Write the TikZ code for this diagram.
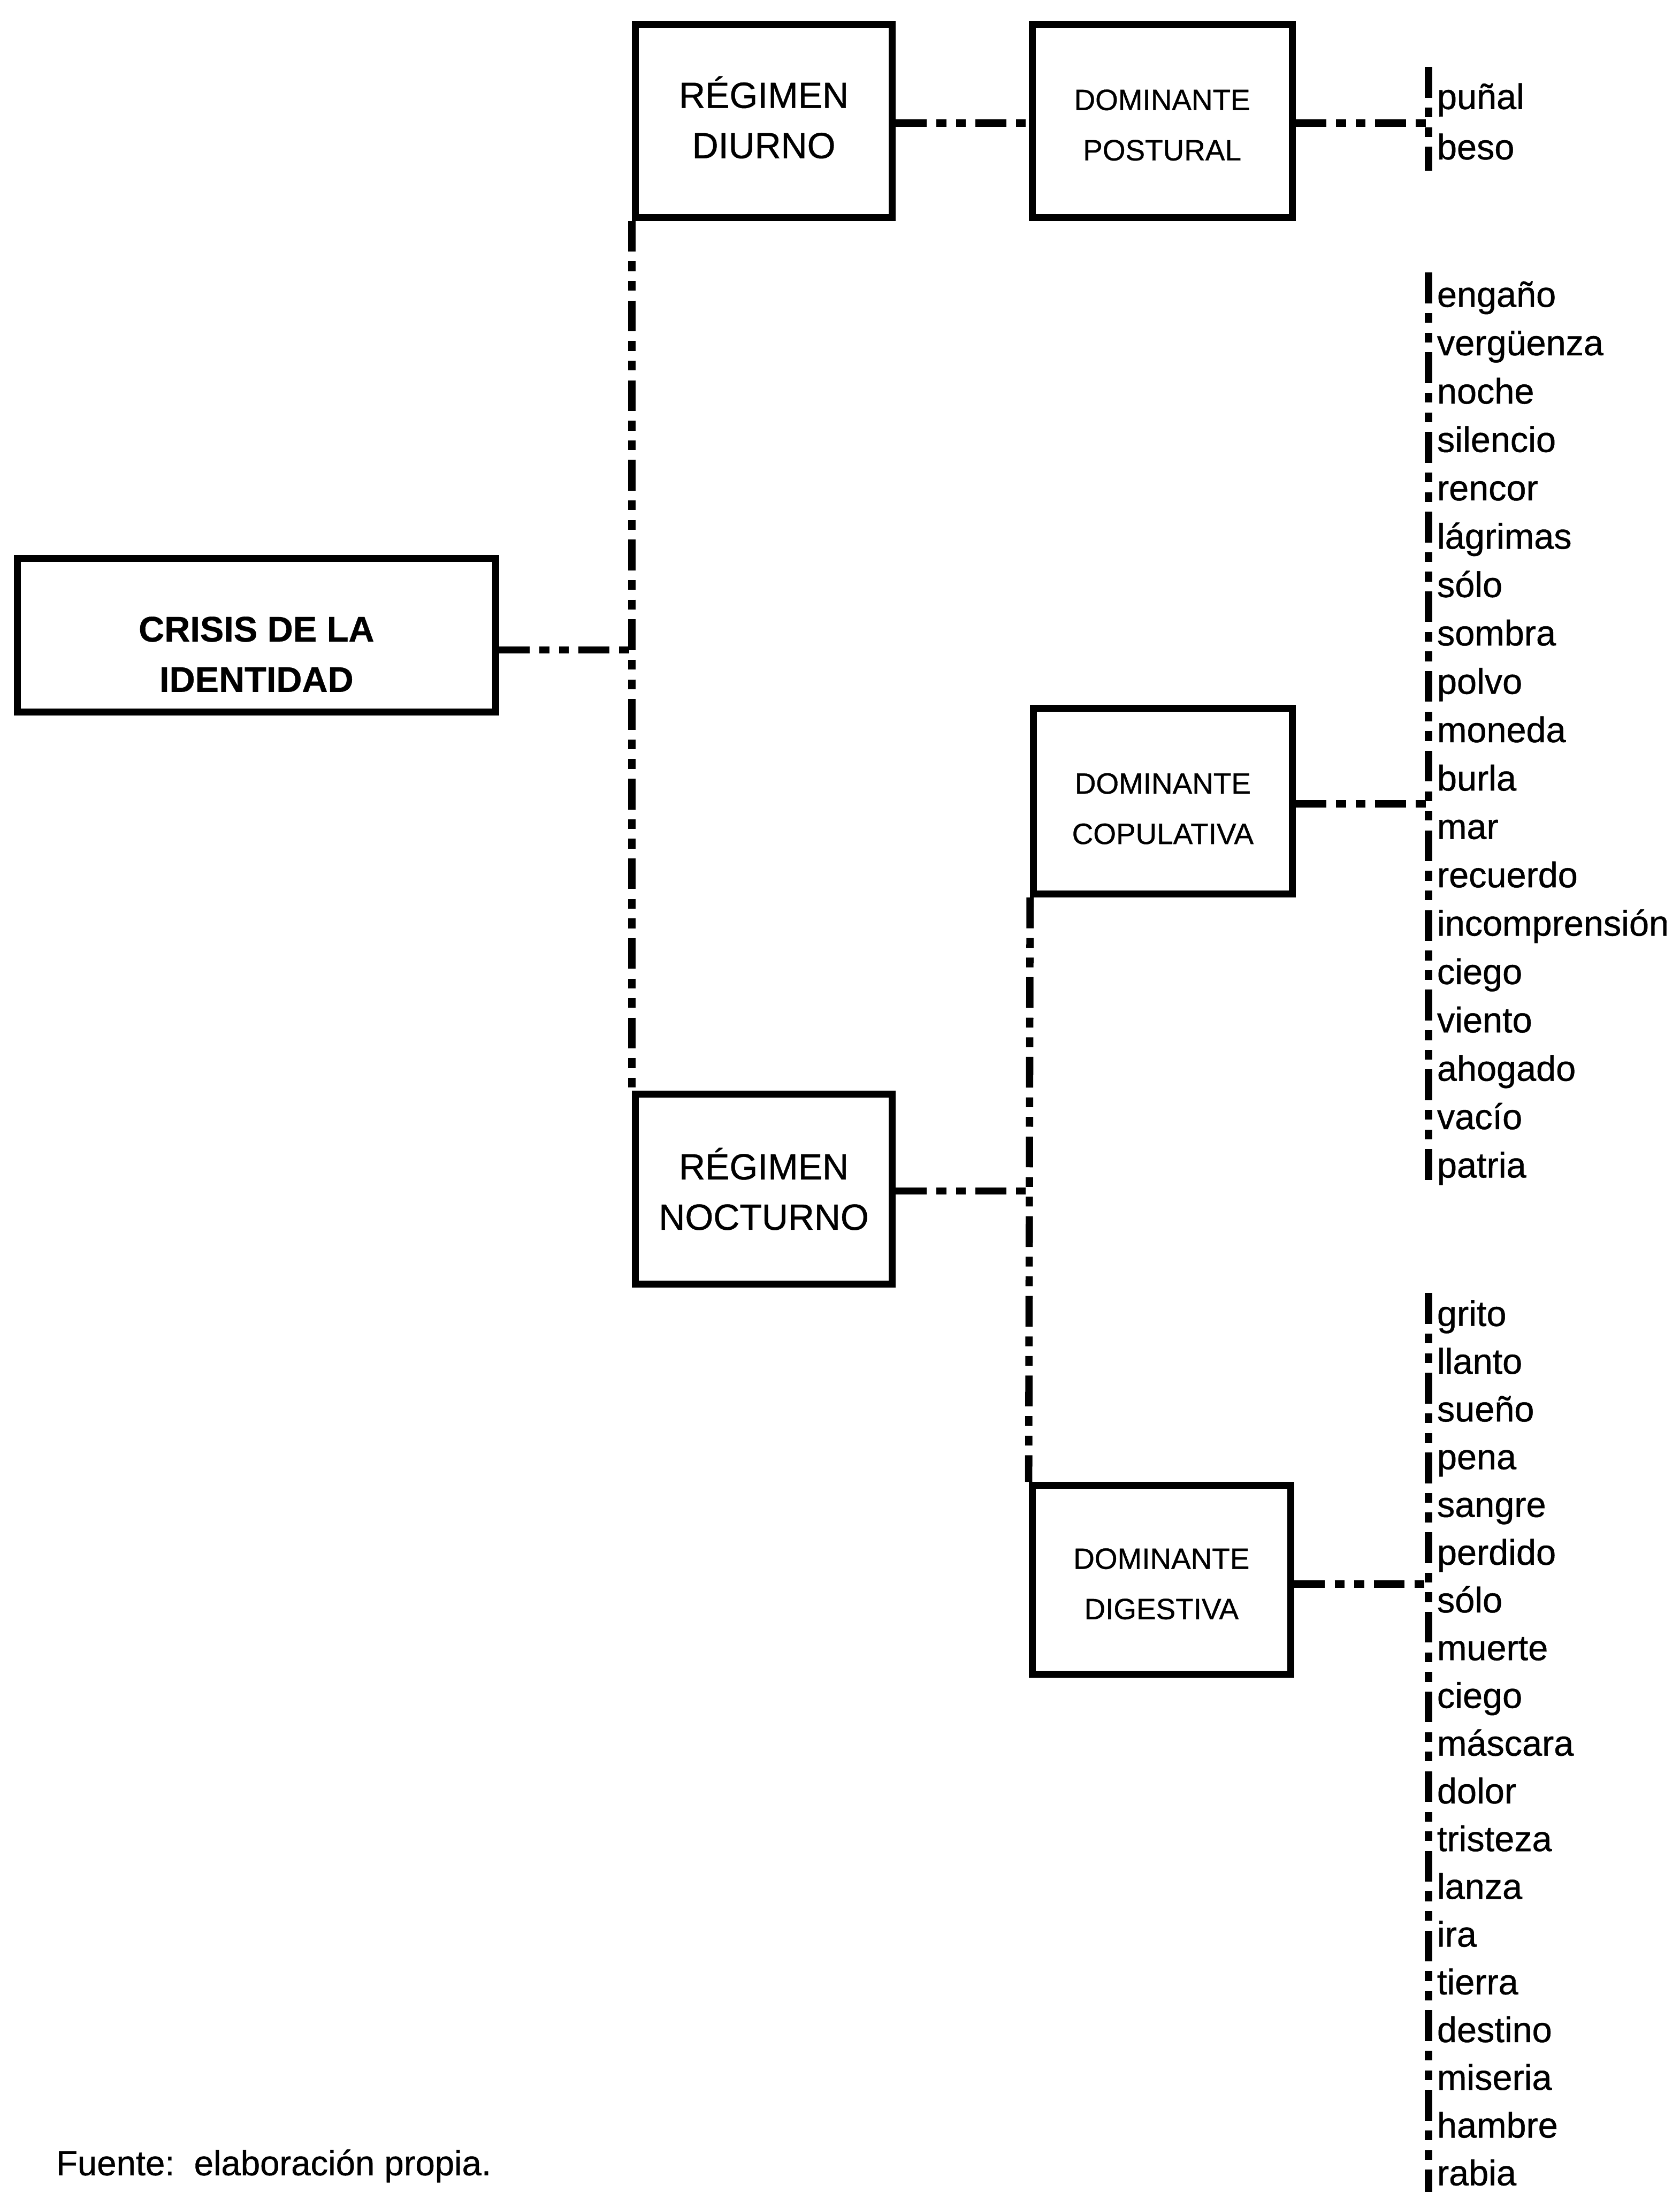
\documentclass[tikz,border=0pt]{standalone}
\usepackage{fontspec}
\setmainfont{Liberation Sans}
\newfontfamily\scanfont{Liberation Sans}[FakeBold=0.7]
\newfontfamily\scanbold{Liberation Sans Bold}[FakeBold=0.5]
\begin{document}
\begin{tikzpicture}[x=1pt,y=-1pt,
  box/.style={draw,line width=5pt,inner sep=0pt,rectangle},
  bigtxt/.style={align=center,inner sep=0pt,font=\scanfont\fontsize{26}{36}\selectfont},
  smalltxt/.style={align=center,inner sep=0pt,font=\scanfont\fontsize{21}{36}\selectfont},
  dd/.style={line width=5.2pt,dash pattern=on 22pt off 7pt on 7pt off 7pt on 7pt off 7pt},
  word/.style={anchor=base west,inner sep=0pt,font=\scanfont\fontsize{25.5}{30}\selectfont}]
\useasboundingbox (0,0) rectangle (1202,1568);
\fill[white] (0,0) rectangle (1202,1568);

% boxes
\node[box,minimum width=342pt,minimum height=110pt] (crisis) at (183.5,454.5) {};
\node[box,minimum width=184pt,minimum height=138pt] (diurno) at (546.5,86.5) {};
\node[box,minimum width=184pt,minimum height=136pt] (nocturno) at (546.5,850.5) {};
\node[box,minimum width=186pt,minimum height=138pt] (postural) at (831.5,86.5) {};
\node[box,minimum width=185pt,minimum height=133pt] (copulativa) at (832,573) {};
\node[box,minimum width=185pt,minimum height=135pt] (digestiva) at (831,1130) {};

% box captions
\node[align=center,inner sep=0pt,font=\scanbold\fontsize{25.5}{36}\selectfont]
     (crisisT) at ([yshift=-13.5pt]crisis.center) {CRISIS DE LA\\IDENTIDAD};
\node[bigtxt] (diurnoT) at ([yshift=2.5pt]diurno.center) {RÉGIMEN\\DIURNO};
\node[bigtxt] (nocturnoT) at (nocturno.center) {RÉGIMEN\\NOCTURNO};
\node[smalltxt] (posturalT) at ([yshift=-3pt]postural.center) {DOMINANTE\\POSTURAL};
\node[smalltxt] (copulativaT) at ([yshift=-5.5pt]copulativa.center) {DOMINANTE\\COPULATIVA};
\node[smalltxt] (digestivaT) at ([yshift=-3pt]digestiva.center) {DOMINANTE\\DIGESTIVA};

% trunk lines
\draw[dd] (diurno.south west) -- (nocturno.north west);
\draw[dd] (copulativa.south west) -- (digestiva.north west);
\draw[dd] ([yshift=-10.5pt]crisis.east) -- ([yshift=-10.5pt]crisis.east -| diurno.west);
\draw[dd] ([yshift=-1.5pt]diurno.east) -- ([yshift=-1.5pt]postural.west);
\draw[dd] ([yshift=-1.5pt]nocturno.east) -- ([yshift=-1.5pt]nocturno.east -| copulativa.west);

% word brackets
\coordinate (pTop) at (1022,48);   \coordinate (pBot) at (1022,122);
\coordinate (cTop) at (1022,195);  \coordinate (cBot) at (1022,850);
\coordinate (gTop) at (1022,925);  \coordinate (gBot) at (1022,1580);
\draw[dd] (pTop) -- (pBot);
\draw[dd] (cTop) -- (cBot);
\draw[dd] (gTop) -- (gBot);
\draw[dd] ([yshift=-1.5pt]postural.east) -- ([yshift=-1.5pt]postural.east -| pTop);
\draw[dd] ([yshift=-2pt]copulativa.east) -- ([yshift=-2pt]copulativa.east -| cTop);
\draw[dd] ([yshift=-3pt]digestiva.east) -- ([yshift=-3pt]digestiva.east -| gTop);

% word lists
\node[word] (w1) at (1028,78) {puñal};
\node[word] (w2) at (1028,114) {beso};

\foreach \w [count=\i from 0] in {engaño,vergüenza,noche,silencio,rencor,lágrimas,sólo,sombra,polvo,moneda,burla,mar,recuerdo,incomprensión,ciego,viento,ahogado,vacío,patria}
  \node[word] (c\i) at (1028,219.5+34.6*\i) {\w};

\foreach \w [count=\i from 0] in {grito,llanto,sueño,pena,sangre,perdido,sólo,muerte,ciego,máscara,dolor,tristeza,lanza,ira,tierra,destino,miseria,hambre,rabia}
  \node[word] (g\i) at (1028,948.5+34.15*\i) {\w};

% source note
\node[word,font=\scanfont\fontsize{25}{30}\selectfont] (src) at (40,1556) {Fuente:\ \ elaboración propia.};
\end{tikzpicture}
\end{document}
